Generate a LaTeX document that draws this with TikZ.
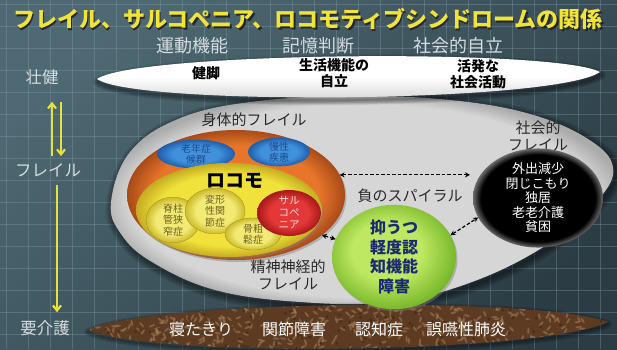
\documentclass[tikz,border=0pt]{standalone}
\usepackage{fontspec}
\setmainfont{Noto Sans CJK JP}
\usetikzlibrary{shapes.geometric,arrows.meta,shadows}
\definecolor{bgA}{HTML}{4E6973}
\definecolor{bgB}{HTML}{2B3C44}
\definecolor{gridc}{HTML}{86A0AA}
\definecolor{titley}{HTML}{F0E436}
\definecolor{subc}{HTML}{D5DCDF}
\definecolor{arrowy}{HTML}{E6E23A}
\definecolor{gA}{HTML}{D6D6D6}
\definecolor{gB}{HTML}{ABABAB}
\definecolor{orA}{HTML}{E8762A}
\definecolor{orB}{HTML}{A84A18}
\definecolor{yA}{HTML}{F0E23A}
\definecolor{yB}{HTML}{C4AC22}
\definecolor{syA}{HTML}{F2EA74}
\definecolor{syB}{HTML}{CDBB2C}
\definecolor{blA}{HTML}{4090DC}
\definecolor{blB}{HTML}{1F5EAA}
\definecolor{rdA}{HTML}{E43838}
\definecolor{rdB}{HTML}{A81818}
\definecolor{grA}{HTML}{BEE862}
\definecolor{grB}{HTML}{78B82A}
\definecolor{bkB}{HTML}{6A6A6A}
\definecolor{brA}{HTML}{5C3B22}
\definecolor{brB}{HTML}{A5805A}
\definecolor{brC}{HTML}{3E2614}
\definecolor{labc}{HTML}{2A2A2A}
\definecolor{navy}{HTML}{1A2A72}
\definecolor{bluetxt}{HTML}{1E4A8A}
\definecolor{olive}{HTML}{6A6020}
\pgfdeclareradialshading{greyball}{\pgfpoint{0bp}{0bp}}{color(0bp)=(gA); color(23bp)=(gA); color(26bp)=(gB); color(50bp)=(gB)}
\pgfdeclareradialshading{orangeball}{\pgfpoint{0bp}{0bp}}{color(0bp)=(orA); color(19bp)=(orA); color(25bp)=(orB); color(50bp)=(orB)}
\pgfdeclareradialshading{yellowball}{\pgfpoint{0bp}{0bp}}{color(0bp)=(yA); color(19bp)=(yA); color(25bp)=(yB); color(50bp)=(yB)}
\pgfdeclareradialshading{syellowball}{\pgfpoint{0bp}{0bp}}{color(0bp)=(syA); color(16bp)=(syA); color(25bp)=(syB); color(50bp)=(syB)}
\pgfdeclareradialshading{blueball}{\pgfpoint{0bp}{0bp}}{color(0bp)=(blA); color(15bp)=(blA); color(25bp)=(blB); color(50bp)=(blB)}
\pgfdeclareradialshading{redball}{\pgfpoint{0bp}{0bp}}{color(0bp)=(rdA); color(15bp)=(rdA); color(25bp)=(rdB); color(50bp)=(rdB)}
\pgfdeclareradialshading{greenball}{\pgfpoint{-4bp}{4bp}}{color(0bp)=(grA); color(14bp)=(grA); color(27bp)=(grB); color(50bp)=(grB)}
\pgfdeclareradialshading{blackball}{\pgfpoint{0bp}{0bp}}{color(0bp)=(black); color(22bp)=(black); color(25bp)=(bkB); color(50bp)=(bkB)}
\begin{document}
\begin{tikzpicture}[x=1pt,y=-1pt,
  ell/.style={ellipse, inner sep=0pt, outer sep=0pt, align=center},
  soft/.style={drop shadow={opacity=0.45, shadow xshift=1.5pt, shadow yshift=-2pt}},
  gridline/.style={gridc, line width=0.4pt, opacity=0.35},
  subt/.style={text=subc, font=\fontsize{18}{20}\selectfont, inner sep=1pt},
  lefttxt/.style={text=subc, font=\fontsize{16.5}{18}\selectfont, inner sep=1pt},
  lenstxt/.style={text=black, font=\bfseries\fontsize{14}{16.5}\selectfont, align=center, inner sep=1pt},
  bottxt/.style={text=white, font=\fontsize{16}{18}\selectfont, inner sep=1pt},
  lbl/.style={text=labc, font=\fontsize{15}{16.5}\selectfont, align=center, inner sep=1pt},
  yarrow/.style={arrowy, line width=2.2pt, -{Straight Barb[length=5pt,width=8pt]}},
  dasharrow/.style={black, line width=1.2pt, dash pattern=on 3.5pt off 2pt, {Stealth[length=5pt,width=5pt]}-{Stealth[length=5pt,width=5pt]}}
]
\useasboundingbox (0,0) rectangle (617,349);
% background
\shade[top color=bgA, bottom color=bgB, shading angle=40] (0,0) rectangle (617,349);
\foreach \x in {6,28,...,616} \draw[gridline] (\x,0) -- (\x,349);
\foreach \y in {4,26,...,348} \draw[gridline] (0,\y) -- (617,\y);

% title
\node[text=black!85, font=\bfseries\fontsize{22}{24}\selectfont] at (309.5,20.5) {フレイル、サルコペニア、ロコモティブシンドロームの関係};
\node[text=titley, font=\bfseries\fontsize{22}{24}\selectfont] (title) at (308,19) {フレイル、サルコペニア、ロコモティブシンドロームの関係};

% column headers
\node[subt] (h1) at (192,46) {運動機能};
\node[subt] (h2) at (318,46) {記憶判断};
\node[subt] (h3) at (458,46) {社会的自立};

% big grey egg with halo
\def\greyshape{plot[smooth cycle, tension=0.65] coordinates {(111,202) (130,152) (178,119) (250,102) (350,96) (450,100) (530,114) (588,139) (613,167) (598,200) (548,244) (472,282) (390,302) (300,302) (215,290) (152,262) (121,234)}}
\begin{scope}[shift={(2,3)}]
\foreach \k in {1,...,7}
  \draw[black, opacity=0.07, line width=2pt*\k, line join=round] \greyshape;
\end{scope}
\shade[shading=greyball] \greyshape;

% white lens
\def\whitelens{(97,79) .. controls (135,52) and (555,48) .. (600,72) .. controls (555,103) and (135,106) .. cycle}
\begin{scope}[shift={(1,3)}]
\foreach \k in {1,...,6}
  \draw[black, opacity=0.08, line width=1.6pt*\k, line join=round] \whitelens;
\end{scope}
\shade[top color=white, bottom color=white!80!black, middle color=white] \whitelens;
\node[lenstxt] (l1) at (206,73) {健脚};
\node[lenstxt] (l2) at (334,73) {生活機能の\\自立};
\node[lenstxt] (l3) at (478,74) {活発な\\社会活動};

% bottom brown lens
\def\brownlens{(88,330) .. controls (150,300) and (540,296) .. (608,322) .. controls (540,354) and (150,358) .. cycle}
\begin{scope}[shift={(0,2)}]
\foreach \k in {1,...,5}
  \draw[black, opacity=0.08, line width=1.6pt*\k, line join=round] \brownlens;
\end{scope}
\fill[brA] \brownlens;
\begin{scope}
\clip \brownlens;
\pgfmathsetseed{7}
\foreach \i in {1,...,450} {
  \pgfmathsetmacro\xx{88+rnd*520}
  \pgfmathsetmacro\yy{300+rnd*52}
  \pgfmathsetmacro\rr{rnd*180}
  \fill[brB, opacity=0.55, rotate around={\rr:(\xx,\yy)}] (\xx,\yy) ellipse [x radius=3.2, y radius=1.1];
}
\foreach \i in {1,...,160} {
  \pgfmathsetmacro\xx{88+rnd*520}
  \pgfmathsetmacro\yy{300+rnd*52}
  \fill[brC, opacity=0.6] (\xx,\yy) circle [radius=1.6];
}
\end{scope}
\node[bottxt] (b1) at (201,329) {寝たきり};
\node[bottxt] (b2) at (294,329) {関節障害};
\node[bottxt] (b3) at (379,329) {認知症};
\node[bottxt] (b4) at (466,329) {誤嚥性肺炎};

% left column
\node[lefttxt] (sk) at (42,77) {壮健};
\node[lefttxt] (fr) at (48,170) {フレイル};
\node[lefttxt] (yk) at (45,328) {要介護};
\coordinate (upx) at (52,0);
\coordinate (dnx) at (61,0);
\coordinate (lgx) at (57,0);
\draw[yarrow, shorten <=6pt, shorten >=16pt] (fr.north -| upx) -- (sk.south -| upx);
\draw[yarrow, shorten <=16pt, shorten >=6pt] (sk.south -| dnx) -- (fr.north -| dnx);
\draw[yarrow, shorten <=7pt, shorten >=7pt] (fr.south -| lgx) -- (yk.north -| lgx);

% physical frailty
\node[ell, shading=orangeball, soft, minimum width=218pt, minimum height=130pt] (orange) at (236,195) {};
\node[lbl] (physl) at (254,120) {身体的フレイル};
\node[ell, shading=blueball, minimum width=78pt, minimum height=29pt, font=\fontsize{10}{11}\selectfont, text=bluetxt] (blue1) at (196,154) {老年症\\候群};
\node[ell, shading=blueball, minimum width=62pt, minimum height=28pt, font=\fontsize{10}{11}\selectfont, text=bluetxt] (blue2) at (279,152) {慢性\\疾患};
\node[ell, shading=yellowball, soft, minimum width=186pt, minimum height=94pt] (yellow) at (229,210) {};
\node[font=\bfseries\fontsize{19}{21}\selectfont, text=black] (loco) at (235,181) {ロコモ};
\node[ell, shading=syellowball, draw=syB!80!black, line width=0.4pt, minimum width=54pt, minimum height=38pt, font=\fontsize{10}{11.5}\selectfont, text=olive] (s1) at (173,220) {脊柱\\管狭\\窄症};
\node[ell, shading=syellowball, draw=syB!80!black, line width=0.4pt, minimum width=60pt, minimum height=38pt, font=\fontsize{10}{11.5}\selectfont, text=olive] (s2) at (215,211) {変形\\性関\\節症};
\node[ell, shading=syellowball, draw=syB!80!black, line width=0.4pt, minimum width=56pt, minimum height=32pt, font=\fontsize{10}{11.5}\selectfont, text=olive] (s3) at (253,234) {骨粗\\鬆症};
\node[ell, shading=redball, minimum width=64pt, minimum height=38pt, font=\fontsize{10.5}{12}\selectfont, text=white!85!red] (red) at (289,213) {サル\\コペ\\ニア};
\node[lbl] (mentl) at (288,275) {精神神経的\\フレイル};

% mental
\node[ell, shading=greenball, soft, minimum width=124pt, minimum height=80pt, font=\bfseries\fontsize{16}{19.5}\selectfont, text=navy] (green) at (394,257) {抑うつ\\軽度認\\知機能\\障害};
\node[lbl] (spiral) at (410,196) {負のスパイラル};

% social
\node[lbl] (socl) at (538,136) {社会的\\フレイル};
\node[ell, shading=blackball, minimum width=130pt, minimum height=74pt, font=\fontsize{13}{14.5}\selectfont, text=white] (black) at (538,198) {外出減少\\閉じこもり\\独居\\老老介護\\貧困};

% arrows
\draw[dasharrow, shorten >=3pt] (orange.11) -- (orange.11 -| black.west);
\draw[dasharrow] (green.21) -- (black.198);
\draw[dasharrow] (orange.-25) -- (green.163);
\end{tikzpicture}
\end{document}
